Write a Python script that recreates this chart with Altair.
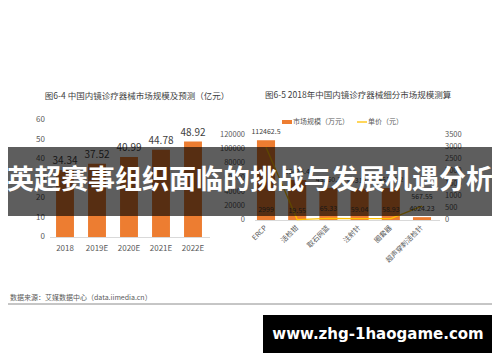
import altair as alt
import pandas as pd

# ---------------- data ----------------
years = ["2018", "2019E", "2020E", "2021E", "2022E"]
market = [34.34, 37.52, 40.99, 44.78, 48.92]
left_ticks = [0, 10, 20, 30, 40, 50, 60]

segments = ["ERCP", "活检钳", "取石网篮", "注射针", "圈套器", "超声穿刺活检针"]
seg_size = [112462.5, 56434.4, 45260.3, 44318.9, 45175.2, 4024.23]
seg_price = [2999, 19.55, 65.33, 59.04, 58.93, 567.55]
size_ticks = [0, 20000, 40000, 60000, 80000, 100000, 120000]
price_ticks = [0, 500, 1000, 1500, 2000, 2500, 3000, 3500]

title_left = "图6-4 中国内镜诊疗器械市场规模及预测（亿元）"
title_right = "图6-5 2018年中国内镜诊疗器械细分市场规模测算"
legend_size = "市场规模（万元）"
legend_price = "单价（元）"
source_text = "数据来源：艾媒数据中心（data.iimedia.cn）"
banner_text = "英超赛事组织面临的挑战与发展机遇分析"
watermark_text = "www.zhg-1haogame.com"

dfL = pd.DataFrame({"year": years, "value": market})
dfLT = pd.DataFrame({"t": left_ticks})
dfR = pd.DataFrame({"seg": segments, "size": seg_size, "price": seg_price})
dfRS = pd.DataFrame({"t": size_ticks})
dfRP = pd.DataFrame({"t": price_ticks})
one = pd.DataFrame({"a": [0]})

M = 8  # page margin


def p(v):
    return v - M


CJK = "Noto Sans CJK SC"
ORANGE = "#ED7D31"
YELLOW = "#FFC000"
TXT = "#404040"
AX = "#595959"

# ---------------- left chart ----------------
xL = alt.X("year:N", sort=years, axis=None,
           scale=alt.Scale(domain=years, range=[p(49), p(209)],
                           paddingInner=0.44, paddingOuter=0.22))
yL = alt.Y("value:Q", axis=None,
           scale=alt.Scale(domain=[0, 60], range=[p(237), p(120)], nice=False))
yLT = alt.Y("t:Q", axis=None,
            scale=alt.Scale(domain=[0, 60], range=[p(237), p(120)], nice=False))

left_bars = alt.Chart(dfL).mark_bar(color=ORANGE).encode(x=xL, y=yL)
left_vals = alt.Chart(dfL).mark_text(font=CJK, fontSize=10, color=TXT, dy=-9,
                                     baseline="middle").encode(
    x=xL, y=yL, text=alt.Text("value:Q", format=".2f"))
left_xlab = alt.Chart(dfL).mark_text(font=CJK, fontSize=8, color=AX,
                                     baseline="middle").encode(
    x=xL, y=alt.value(p(249)), text="year:N")
left_ylab = alt.Chart(dfLT).mark_text(font=CJK, fontSize=8, color=AX,
                                      align="right", baseline="middle").encode(
    x=alt.value(p(45)), y=yLT, text="t:Q")
left_base = alt.Chart(one).mark_rule(color="#D9D9D9").encode(
    x=alt.value(p(50)), x2=alt.value(p(210)), y=alt.value(p(237.5)))
left_title = alt.Chart(one).mark_text(font=CJK, fontSize=8.5, color=TXT,
                                      align="center", baseline="middle").encode(
    x=alt.value(p(137)), y=alt.value(p(96)), text=alt.value(title_left))

# ---------------- right chart ----------------
xR = alt.X("seg:N", sort=segments, axis=None,
           scale=alt.Scale(domain=segments, range=[p(250.4), p(437.6)],
                           paddingInner=0.42, paddingOuter=0.21))
yS = alt.Y("size:Q", axis=None,
           scale=alt.Scale(domain=[0, 120000], range=[p(220), p(135)], nice=False))
ySt = alt.Y("t:Q", axis=None,
            scale=alt.Scale(domain=[0, 120000], range=[p(220), p(135)], nice=False))
yP = alt.Y("price:Q", axis=None,
           scale=alt.Scale(domain=[0, 3500], range=[p(220), p(135)], nice=False))
yPl = alt.Y("lpos:Q", axis=None,
            scale=alt.Scale(domain=[0, 3500], range=[p(220), p(135)], nice=False))
yPt = alt.Y("t:Q", axis=None,
            scale=alt.Scale(domain=[0, 3500], range=[p(220), p(135)], nice=False))

right_bars = alt.Chart(dfR).mark_bar(color=ORANGE).encode(x=xR, y=yS)
right_vals = alt.Chart(dfR).mark_text(font=CJK, fontSize=7, color=TXT, dy=-8,
                                      baseline="middle").encode(
    x=xR, y=yS, text=alt.Text("size:Q"))
right_line = alt.Chart(dfR).mark_line(color=YELLOW, strokeWidth=1.3).encode(x=xR, y=yP)
right_plab = alt.Chart(dfR).transform_calculate(
    lpos="datum.price > 1000 ? 40 : datum.price").mark_text(
    font=CJK, fontSize=7, color=TXT, dy=-9, baseline="middle").encode(
    x=xR, y=yPl, text=alt.Text("price:Q"))
right_xlab = alt.Chart(dfR).mark_text(font=CJK, fontSize=7, color=AX, angle=315,
                                      align="right", baseline="middle").encode(
    x=xR, y=alt.value(p(227)), text="seg:N")
right_ylab = alt.Chart(dfRS).mark_text(font=CJK, fontSize=7.5, color=AX,
                                       align="right", baseline="middle").encode(
    x=alt.value(p(245)), y=ySt, text="t:Q")
right_y2lab = alt.Chart(dfRP).mark_text(font=CJK, fontSize=7.5, color=AX,
                                        align="left", baseline="middle").encode(
    x=alt.value(p(445)), y=yPt, text="t:Q")
right_base = alt.Chart(one).mark_rule(color="#D9D9D9").encode(
    x=alt.value(p(255)), x2=alt.value(p(440)), y=alt.value(p(220.5)))
right_title = alt.Chart(one).mark_text(font=CJK, fontSize=8.5, color=TXT,
                                       align="left", baseline="middle").encode(
    x=alt.value(p(265)), y=alt.value(p(95)), text=alt.value(title_right))
leg_rect = alt.Chart(one).mark_rect(color=ORANGE).encode(
    x=alt.value(p(282)), x2=alt.value(p(292)), y=alt.value(p(120)), y2=alt.value(p(124)))
leg_t1 = alt.Chart(one).mark_text(font=CJK, fontSize=7, color=AX, align="left",
                                  baseline="middle").encode(
    x=alt.value(p(293)), y=alt.value(p(122)), text=alt.value(legend_size))
leg_line = alt.Chart(one).mark_rule(color=YELLOW, strokeWidth=1.3).encode(
    x=alt.value(p(357)), x2=alt.value(p(367)), y=alt.value(p(122)))
leg_t2 = alt.Chart(one).mark_text(font=CJK, fontSize=7, color=AX, align="left",
                                  baseline="middle").encode(
    x=alt.value(p(368)), y=alt.value(p(122)), text=alt.value(legend_price))

# ---------------- footer & overlays ----------------
src = alt.Chart(one).mark_text(font=CJK, fontSize=7, color=AX, align="left",
                               baseline="middle").encode(
    x=alt.value(p(10)), y=alt.value(p(298)), text=alt.value(source_text))
src_line = alt.Chart(one).mark_rule(color="#8C8C8C", strokeWidth=1).encode(
    x=alt.value(p(8)), x2=alt.value(p(492)), y=alt.value(p(304)))

banner = alt.Chart(one).mark_rect(color="#000000", opacity=0.63).encode(
    x=alt.value(p(7)), x2=alt.value(p(493)), y=alt.value(p(147)), y2=alt.value(p(216)))
banner_t = alt.Chart(one).mark_text(font=CJK, fontSize=27, fontWeight="bold",
                                    color="white", align="center",
                                    baseline="middle").encode(
    x=alt.value(p(250)), y=alt.value(p(181)), text=alt.value(banner_text))

wm = alt.Chart(one).mark_rect(color="#000000").encode(
    x=alt.value(p(263)), x2=alt.value(p(493)), y=alt.value(p(315)), y2=alt.value(p(353)))
wm_t = alt.Chart(one).mark_text(font="DejaVu Sans", fontSize=15, fontWeight="bold",
                                color="white", align="center",
                                baseline="middle").encode(
    x=alt.value(p(378)), y=alt.value(p(334)), text=alt.value(watermark_text))

chart = alt.layer(
    left_bars, left_base, left_vals, left_xlab, left_ylab, left_title,
    right_bars, right_base, right_line, right_vals, right_plab, right_xlab,
    right_ylab, right_y2lab, right_title, leg_rect, leg_t1, leg_line, leg_t2,
    src, src_line, banner, banner_t, wm, wm_t,
).resolve_scale(x="independent", y="independent").properties(
    width=484, height=346, autosize=alt.AutoSizeParams(type="none"), padding=0,
    background="white",
).configure_view(stroke=None)

chart.save("out.html", embed_options={"renderer": "svg", "actions": False})
